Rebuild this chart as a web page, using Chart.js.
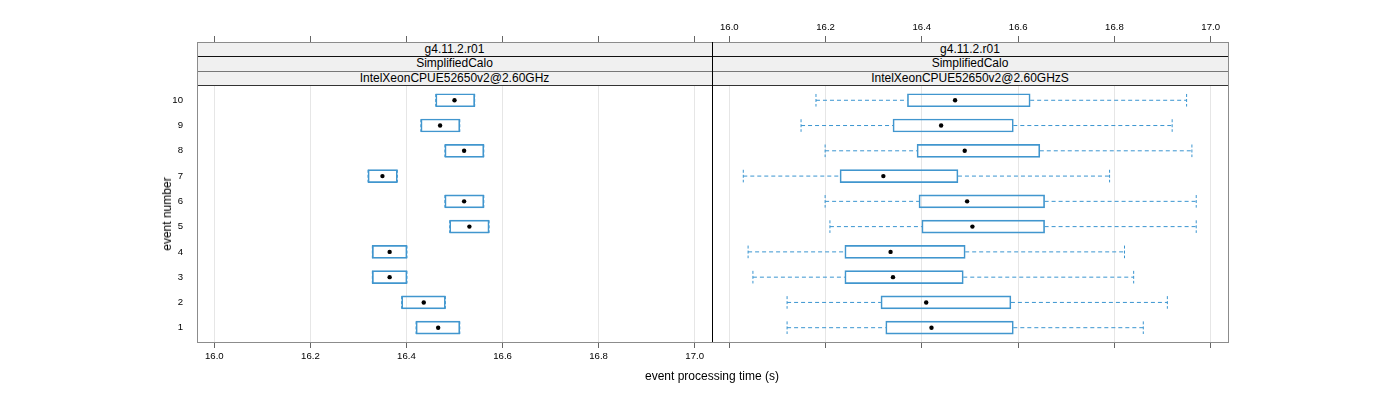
<!DOCTYPE html>
<html>
<head>
<meta charset="utf-8">
<script src="https://cdn.jsdelivr.net/npm/chart.js@4.4.1/dist/chart.umd.min.js"></script>
<style>
  body { margin: 0; background: #fff; font-family: "Liberation Sans", Arial, sans-serif; }
  #page { position: relative; width: 1400px; height: 400px; overflow: hidden; background: #fff; }
  .box { position: absolute; }
  .strip { position: absolute; background: #f0f0f0; text-align: center; font-size: 12px; color: #000; white-space: nowrap; }
  .hline { position: absolute; height: 1px; }
  .ttl { position: absolute; font-size: 12px; color: #000; white-space: nowrap; }
</style>
</head>
<body>
<div id="page">
  <div class="box" style="left:0;top:0;width:732px;height:400px;"><canvas id="leftChart"></canvas></div>
  <div class="box" style="left:692px;top:0;width:708px;height:400px;"><canvas id="rightChart"></canvas></div>
  <div id="overlay"></div>
</div>
<script>
// event numbers (y categories)
const events = [1, 2, 3, 4, 5, 6, 7, 8, 9, 10];
const xTicks = [16.0, 16.2, 16.4, 16.6, 16.8, 17.0];

// left panel: IntelXeonCPUE52650v2@2.60GHz
const leftLow  = [16.420, 16.390, 16.329, 16.329, 16.490, 16.480, 16.320, 16.480, 16.430, 16.461];
const leftQ1   = [16.420, 16.390, 16.329, 16.329, 16.490, 16.480, 16.320, 16.480, 16.430, 16.461];
const leftMed  = [16.466, 16.436, 16.365, 16.365, 16.531, 16.520, 16.350, 16.520, 16.470, 16.500];
const leftQ3   = [16.511, 16.481, 16.401, 16.401, 16.572, 16.561, 16.381, 16.561, 16.511, 16.542];
const leftHigh = [16.511, 16.481, 16.401, 16.401, 16.572, 16.561, 16.381, 16.561, 16.511, 16.542];

// right panel: IntelXeonCPUE52650v2@2.60GHzS
const rightLow  = [16.120, 16.120, 16.049, 16.039, 16.209, 16.199, 16.029, 16.199, 16.149, 16.180];
const rightQ1   = [16.325, 16.315, 16.240, 16.240, 16.400, 16.394, 16.230, 16.390, 16.340, 16.370];
const rightMed  = [16.420, 16.409, 16.340, 16.335, 16.505, 16.494, 16.320, 16.489, 16.440, 16.469];
const rightQ3   = [16.590, 16.585, 16.486, 16.490, 16.655, 16.655, 16.475, 16.645, 16.590, 16.625];
const rightHigh = [16.860, 16.910, 16.840, 16.821, 16.970, 16.970, 16.790, 16.961, 16.920, 16.950];

const stripTop = ["g4.11.2.r01", "g4.11.2.r01"];
const stripMid = ["SimplifiedCalo", "SimplifiedCalo"];
const stripBot = ["IntelXeonCPUE52650v2@2.60GHz", "IntelXeonCPUE52650v2@2.60GHzS"];

const X_MIN = 15.964, X_MAX = 17.036;
// y range also covers the strip area above the panel
const Y_MIN = 0.434, Y_MAX = 12.306;

const BOX_COL = "#4196ce";
const WHISK_COL = "#3a95d0";
const tickFont = { family: "Liberation Sans", size: 9.6 };

// dashed whisker caps
const capDashPlugin = {
  id: "capDash",
  beforeDatasetDraw(chart, args) {
    const ds = chart.data.datasets[args.index];
    if (ds.capDash) { chart.ctx.save(); chart.ctx.setLineDash(ds.capDash); }
  },
  afterDatasetDraw(chart, args) {
    if (chart.data.datasets[args.index].capDash) chart.ctx.restore();
  },
};

function makePanel(id, low, q1, med, q3, high, isLeft) {
  const boxes = events.map((e, i) => ({ y: e, x: [q1[i], q3[i]] }));
  const medians = events.map((e, i) => ({ x: med[i], y: e }));
  const whiskers = [];
  const caps = [];
  events.forEach((e, i) => {
    whiskers.push({ x: low[i], y: e }, { x: q1[i], y: e }, { x: q1[i], y: null });
    whiskers.push({ x: q3[i], y: e }, { x: high[i], y: e }, { x: high[i], y: null });
    caps.push({ x: low[i], y: e }, { x: high[i], y: e });
  });

  const xBase = {
    type: "linear", min: X_MIN, max: X_MAX, offset: false,
    afterBuildTicks: (s) => { s.ticks = xTicks.map((v) => ({ value: v })); },
    border: { display: false },
  };
  // empty side axes only reserve room so tick labels don't shrink the panel
  const spacer = (pos, w) => ({
    type: "linear", position: pos, min: Y_MIN, max: Y_MAX,
    afterFit: (s) => { s.width = w; },
    grid: { display: false }, border: { display: false }, ticks: { display: false },
  });

  const config = {
    type: "scatter",
    data: {
      datasets: [
        {
          type: "scatter", label: "median", data: medians,
          pointRadius: 2.2, pointHoverRadius: 2.2,
          backgroundColor: "#000", borderColor: "#000", borderWidth: 0,
        },
        {
          type: "bar", label: "box", data: boxes, indexAxis: "y",
          barThickness: 13, borderWidth: 1, borderSkipped: false,
          borderColor: BOX_COL, backgroundColor: "rgba(0,0,0,0)",
          xAxisID: "x", yAxisID: "y",
        },
        {
          type: "line", label: "whisker", data: whiskers,
          borderColor: WHISK_COL, borderWidth: 1, borderDash: [4, 3],
          pointRadius: 0, spanGaps: false, fill: false,
        },
        {
          type: "scatter", label: "cap", data: caps, capDash: [3, 2],
          pointStyle: "line", rotation: 90, pointRadius: 6.3, pointHoverRadius: 6.3,
          borderColor: WHISK_COL, borderWidth: 1,
        },
      ],
    },
    options: {
      responsive: true,
      maintainAspectRatio: false,
      animation: false,
      events: [],
      layout: { padding: { left: 0, right: isLeft ? 0 : 172, top: 0, bottom: 0 } },
      plugins: { legend: { display: false }, tooltip: { enabled: false } },
      scales: {
        x: {
          ...xBase, position: "bottom",
          afterFit: (s) => { s.height = 58; },
          grid: { color: "#e6e6e6", tickColor: "#666", tickLength: 6, offset: false },
          ticks: {
            display: isLeft, font: tickFont, color: "#000", padding: 3,
            autoSkip: false, maxRotation: 0,
            callback: (v) => Number(v).toFixed(1),
          },
        },
        x2: {
          ...xBase, position: "top",
          afterFit: (s) => { s.height = 42; },
          grid: { drawOnChartArea: false, tickColor: "#666", tickLength: 6, offset: false },
          ticks: {
            display: !isLeft, font: tickFont, color: "#000", padding: 3,
            autoSkip: false, maxRotation: 0,
            callback: (v) => Number(v).toFixed(1),
          },
        },
        y: {
          type: "linear", position: "left",
          min: Y_MIN, max: Y_MAX, offset: false,
          afterBuildTicks: (s) => { s.ticks = events.map((v) => ({ value: v })); },
          afterFit: (s) => { s.width = isLeft ? 197 : 20; },
          grid: { display: false },
          border: { display: false },
          ticks: { display: isLeft, font: tickFont, color: "#000", padding: 6 },
        },
        yR: spacer("right", isLeft ? 20 : 0),
      },
    },
    plugins: [capDashPlugin],
  };
  return new Chart(document.getElementById(id), config);
}

makePanel("leftChart", leftLow, leftQ1, leftMed, leftQ3, leftHigh, true);
makePanel("rightChart", rightLow, rightQ1, rightMed, rightQ3, rightHigh, false);

// panel frames, strips and axis titles
const overlay = document.getElementById("overlay");
function add(cls, style, text) {
  const d = document.createElement("div");
  d.className = cls;
  d.style.cssText = style;
  if (text) d.textContent = text;
  overlay.appendChild(d);
}
const panels = [{ left: 197, width: 515 }, { left: 712, width: 516 }];
panels.forEach((p, i) => {
  add("strip", `left:${p.left}px;top:42px;width:${p.width}px;height:14px;line-height:14px;`, stripTop[i]);
  add("strip", `left:${p.left}px;top:56px;width:${p.width}px;height:15px;line-height:15px;`, stripMid[i]);
  add("strip", `left:${p.left}px;top:71px;width:${p.width}px;height:15px;line-height:15px;`, stripBot[i]);
});
add("hline", "left:197px;top:56px;width:1031px;background:#111;");
add("hline", "left:197px;top:71px;width:1031px;background:#777;");
add("hline", "left:197px;top:85px;width:1031px;background:#333;");
add("box", "left:197px;top:42px;width:1032px;height:301px;box-sizing:border-box;border:1px solid #8c8c8c;");
add("box", "left:712px;top:42px;width:1px;height:300px;background:#000;");
add("ttl", "left:712px;top:369px;transform:translateX(-50%);", "event processing time (s)");
add("ttl", "left:167px;top:214px;transform:translate(-50%,-50%) rotate(-90deg);", "event number");
</script>
</body>
</html>
